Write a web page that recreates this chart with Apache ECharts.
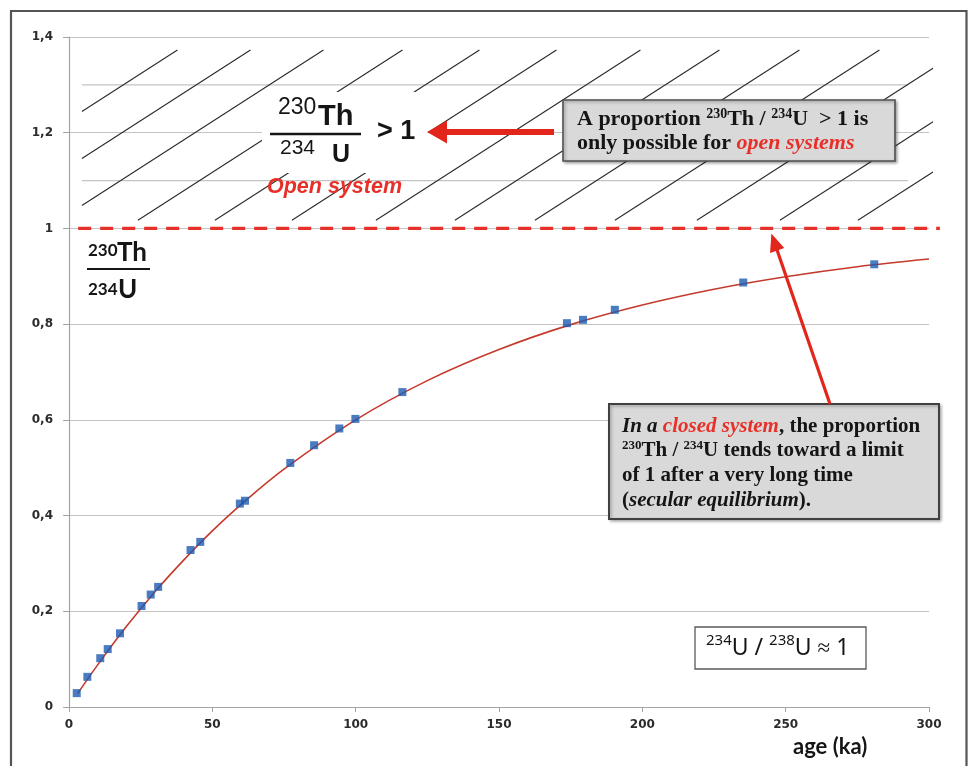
<!DOCTYPE html>
<html>
<head>
<meta charset="utf-8">
<title>230Th/234U ingrowth with age</title>
<script src="https://cdn.jsdelivr.net/npm/echarts@6/dist/echarts.min.js"></script>
<style>
html, body { margin: 0; padding: 0; background: #fff; }
#chart { width: 968px; height: 766px; }
</style>
</head>
<body>
<div id="chart"></div>
<script>
// Measured samples: age (ka) and 230Th/234U activity ratio
const sampleAge   = [2.7, 6.4, 10.9, 13.5, 17.8, 25.3, 28.5, 31.1, 42.4, 45.8, 59.6, 61.4, 77.2, 85.5, 94.3, 99.9, 116.3, 173.7, 179.3, 190.4, 235.2, 280.9];
const sampleRatio = [0.029, 0.063, 0.102, 0.121, 0.154, 0.211, 0.235, 0.251, 0.328, 0.345, 0.425, 0.431, 0.510, 0.547, 0.582, 0.602, 0.658, 0.802, 0.809, 0.830, 0.887, 0.925];

// Closed-system ingrowth curve
const curveAge   = [3, 10, 20, 30, 40, 50, 60, 75, 100, 125, 150, 175, 200, 225, 250, 275, 300];
const curveRatio = [0.028, 0.088, 0.168, 0.241, 0.307, 0.368, 0.423, 0.497, 0.600, 0.682, 0.747, 0.799, 0.840, 0.873, 0.899, 0.920, 0.936];

// Secular equilibrium level (drawn slightly past the last age tick)
const equilibriumAge = [3.2, 303.8];
const equilibriumRatio = 1;

// Axis ticks
const ageTicks = [0, 50, 100, 150, 200, 250, 300];
const ratioTicks = [0, 0.2, 0.4, 0.6, 0.8, 1, 1.2, 1.4];
const ratioTickLabels = ['0', '0,2', '0,4', '0,6', '0,8', '1', '1,2', '1,4'];

// Open-system band (ratio > 1) with its faint guide levels
const bandAgeRange = [4.5, 301.4];
const bandRatioRange = [1.017, 1.373];
const bandGuideLevels = [1.1, 1.3];
const bandGuideAgeRange = [4.5, 292.7];

const zip = (xs, ys) => xs.map((x, i) => [x, ys[i]]);
const ratioStep = ratioTicks[1] - ratioTicks[0];

const option = {
  animation: false,
  backgroundColor: '#ffffff',
  grid: { left: 69, right: 39, top: 37, bottom: 59, containLabel: false },
  xAxis: {
    type: 'value',
    min: ageTicks[0],
    max: ageTicks[ageTicks.length - 1],
    interval: ageTicks[1] - ageTicks[0],
    axisLine: { show: true, lineStyle: { color: '#a3a3a3', width: 1.2 } },
    axisTick: { show: true, length: 5, lineStyle: { color: '#a3a3a3' } },
    splitLine: { show: false },
    axisLabel: { margin: 12, color: '#2b2b2b', fontFamily: 'DejaVu Sans', fontWeight: 'bold', fontSize: 12 }
  },
  yAxis: {
    type: 'value',
    min: ratioTicks[0],
    max: ratioTicks[ratioTicks.length - 1],
    interval: ratioStep,
    axisLine: { show: true, lineStyle: { color: '#a3a3a3', width: 1.2 } },
    axisTick: { show: true, length: 6, lineStyle: { color: '#a3a3a3' } },
    splitLine: { show: true, lineStyle: { color: '#c4c4c4', width: 1.2 } },
    axisLabel: {
      margin: 16, color: '#2b2b2b', fontFamily: 'DejaVu Sans', fontWeight: 'bold', fontSize: 12,
      formatter: v => ratioTickLabels[Math.round((v - ratioTicks[0]) / ratioStep)]
    }
  },
  series: [
    {
      name: 'closed system',
      type: 'line',
      data: zip(curveAge, curveRatio),
      smooth: 0.35,
      symbol: 'none',
      lineStyle: { color: '#c43a2c', width: 1.6 },
      silent: true,
      z: 3
    },
    {
      name: 'samples',
      type: 'scatter',
      data: zip(sampleAge, sampleRatio),
      symbol: 'rect',
      symbolSize: 8,
      itemStyle: { color: '#1c5bb0' },
      z: 4
    }
  ]
};

const chart = echarts.init(document.getElementById('chart'), null, { renderer: 'canvas' });
chart.setOption(option);

const toPx = (x, y) => chart.convertToPixel({ gridIndex: 0 }, [x, y]);
const g = [];

// outer frame
g.push({ type: 'rect', z: 20, silent: true,
  shape: { x: 11, y: 11, width: 955.5, height: 800 },
  style: { fill: 'none', stroke: '#555', lineWidth: 2.2 } });

// faint guide levels inside the band
bandGuideLevels.forEach(level => {
  const [xa, ya] = toPx(bandGuideAgeRange[0], level);
  const [xb] = toPx(bandGuideAgeRange[1], level);
  g.push({ type: 'line', z: 0, silent: true,
    shape: { x1: xa, y1: ya, x2: xb, y2: ya },
    style: { stroke: '#c4c4c4', lineWidth: 1.2 } });
});

// diagonal hatching of the open-system band
const [bandLeft, bandBottom] = toPx(bandAgeRange[0], bandRatioRange[0]);
const [bandRight, bandTop] = toPx(bandAgeRange[1], bandRatioRange[1]);
const hatchRise = 0.644;
const hatchFeet = [-169, -96, -23, 56, 133, 210, 294, 373, 453, 533, 615, 698, 776];
const hatchRun = (bandBottom - bandTop) / hatchRise;
hatchFeet.forEach(off => {
  const foot = bandLeft + off;
  const xa = Math.max(foot, bandLeft);
  const xb = Math.min(foot + hatchRun, bandRight);
  if (xb <= xa) return;
  g.push({ type: 'line', z: 1, z2: 0, silent: true,
    shape: { x1: xa, y1: bandBottom - (xa - foot) * hatchRise, x2: xb, y2: bandBottom - (xb - foot) * hatchRise },
    style: { stroke: '#2a2a2a', lineWidth: 1.1 } });
});

// secular equilibrium: dashed line at ratio = 1
const eqA = toPx(equilibriumAge[0], equilibriumRatio);
const eqB = toPx(equilibriumAge[1], equilibriumRatio);
g.push({ type: 'line', z: 3, silent: true,
  shape: { x1: eqA[0], y1: eqA[1], x2: eqB[0], y2: eqB[1] },
  style: { stroke: '#e8302a', lineWidth: 3.2, lineDash: [13, 9] } });

// white ground behind the big ratio label
g.push({ type: 'rect', z: 1, z2: 5, silent: true,
  shape: { x: 262, y: 92, width: 166, height: 81 },
  style: { fill: '#ffffff' } });

const txt = (x, y, text, font, extra) => ({
  type: 'text', z: 7, silent: true,
  style: Object.assign({ x, y, text, fill: '#151515', verticalAlign: 'middle', align: 'left' }, font, extra || {})
});
const sans = (size, weight, style) => ({ fontFamily: 'Liberation Sans', fontSize: size, fontWeight: weight || 'normal', fontStyle: style || 'normal' });
const lato = (size, weight) => ({ fontFamily: 'Lato', fontSize: size, fontWeight: weight || 'bold' });

// big ratio label: 230Th / 234U > 1
g.push(txt(278, 108, '230', sans(23)));
g.push(txt(318, 116.5, 'Th', sans(29, 'bold')));
g.push({ type: 'line', z: 7, silent: true, shape: { x1: 270, y1: 134, x2: 361, y2: 134 }, style: { stroke: '#151515', lineWidth: 2.6 } });
g.push(txt(280, 148.5, '234', sans(21)));
g.push(txt(332, 155.5, 'U', sans(25, 'bold')));
g.push(txt(377, 132, '> 1', sans(27, 'bold')));
g.push(txt(267, 187, 'Open system', sans(21.5, 'bold', 'italic'), { fill: '#e8302a' }));

// small ratio label under the equilibrium line
g.push(txt(88, 251, '230', lato(17)));
g.push(txt(117, 253, 'Th', lato(26)));
g.push({ type: 'line', z: 7, silent: true, shape: { x1: 87, y1: 269, x2: 150, y2: 269 }, style: { stroke: '#151515', lineWidth: 2.2 } });
g.push(txt(88, 290, '234', lato(17)));
g.push(txt(118, 290, 'U', lato(26)));

// arrow towards the big ratio label
g.push({ type: 'line', z: 8, silent: true, shape: { x1: 554, y1: 132, x2: 440, y2: 132 }, style: { stroke: '#e3261b', lineWidth: 6 } });
g.push({ type: 'polygon', z: 8, silent: true, shape: { points: [[427, 132], [447, 120.5], [447, 143.5]] }, style: { fill: '#e3261b' } });

// arrow from the closed-system note up to the equilibrium line
const tip = toPx(245, equilibriumRatio);
tip[1] += 5;
const tail = [830, 404];
const len = Math.hypot(tail[0] - tip[0], tail[1] - tip[1]);
const ux = (tip[0] - tail[0]) / len, uy = (tip[1] - tail[1]) / len;
const headLen = 18, headHalf = 7.5;
const base = [tip[0] - ux * headLen, tip[1] - uy * headLen];
g.push({ type: 'line', z: 8, silent: true, shape: { x1: tail[0], y1: tail[1], x2: base[0] + ux * 2, y2: base[1] + uy * 2 }, style: { stroke: '#e3261b', lineWidth: 3.2 } });
g.push({ type: 'polygon', z: 8, silent: true,
  shape: { points: [tip, [base[0] - uy * headHalf, base[1] + ux * headHalf], [base[0] + uy * headHalf, base[1] - ux * headHalf]] },
  style: { fill: '#e3261b' } });

// note boxes
const serif = (size, weight, style, color) => ({
  fontFamily: 'Liberation Serif', fontSize: size, fontWeight: weight, fontStyle: style, fill: color
});
const noteRich = (size, lh) => ({
  b:  Object.assign(serif(size, 'bold', 'normal', '#151515'), { lineHeight: lh, verticalAlign: 'middle' }),
  bi: Object.assign(serif(size, 'bold', 'italic', '#151515'), { lineHeight: lh, verticalAlign: 'middle' }),
  r:  Object.assign(serif(size, 'bold', 'italic', '#e8302a'), { lineHeight: lh, verticalAlign: 'middle' }),
  s:  Object.assign(serif(Math.round(size * 0.64), 'bold', 'normal', '#151515'), { lineHeight: size, verticalAlign: 'top' })
});

g.push({ type: 'rect', z: 6, silent: true,
  shape: { x: 563, y: 100, width: 332, height: 61 },
  style: { fill: '#d9d9d9', stroke: '#505050', lineWidth: 1.6, shadowBlur: 3, shadowOffsetX: 1.5, shadowOffsetY: 1.5, shadowColor: 'rgba(0,0,0,0.35)' } });
g.push({ type: 'text', z: 7, silent: true,
  style: {
    x: 577, y: 107, verticalAlign: 'top', align: 'left',
    text: '{b|A proportion }{s|230}{b|Th / }{s|234}{b|U  > 1 is}\n{b|only possible for }{r|open systems}',
    rich: noteRich(22, 24)
  } });

g.push({ type: 'rect', z: 6, silent: true,
  shape: { x: 609, y: 404, width: 330, height: 115 },
  style: { fill: '#d9d9d9', stroke: '#404040', lineWidth: 2, shadowBlur: 3, shadowOffsetX: 1.5, shadowOffsetY: 1.5, shadowColor: 'rgba(0,0,0,0.3)' } });
g.push({ type: 'text', z: 7, silent: true,
  style: {
    x: 622, y: 414, verticalAlign: 'top', align: 'left',
    text: '{bi|In a }{r|closed system}{b|, the proportion}\n{s|230}{b|Th / }{s|234}{b|U tends toward a limit}\n{b|of 1 after a very long time}\n{b|(}{bi|secular equilibrium}{b|).}',
    rich: noteRich(21, 24.7)
  } });

// isotope ratio box
g.push({ type: 'rect', z: 6, silent: true,
  shape: { x: 695, y: 627, width: 171, height: 42 },
  style: { fill: '#ffffff', stroke: '#5a5a5a', lineWidth: 1.3 } });
const ns = (size) => ({ fontFamily: 'Noto Sans', fontSize: size, fill: '#151515' });
g.push({ type: 'text', z: 7, silent: true,
  style: {
    x: 706, y: 648, verticalAlign: 'middle', align: 'left',
    text: '{s|234}{m|U / }{s|238}{m|U \u2248 1}',
    rich: {
      m: Object.assign(ns(23), { lineHeight: 30, verticalAlign: 'middle' }),
      s: Object.assign(ns(15), { lineHeight: 23, verticalAlign: 'top' })
    }
  } });

// x axis title
g.push(txt(793, 747, 'age (ka)', lato(22)));

chart.setOption({ graphic: { elements: g } });
</script>
</body>
</html>
